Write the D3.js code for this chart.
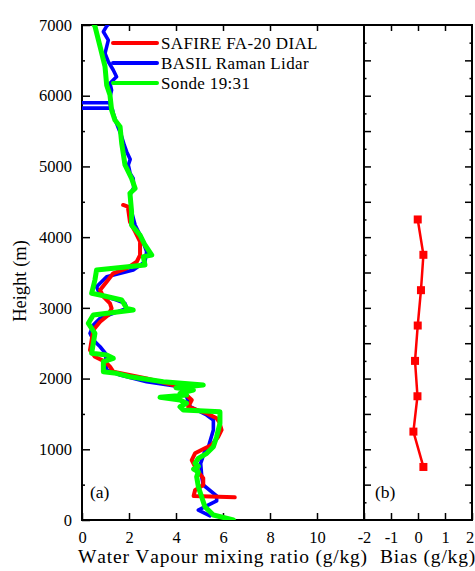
<!DOCTYPE html>
<html><head><meta charset="utf-8">
<script src="https://cdn.jsdelivr.net/npm/d3@7"></script>
<style>html,body{margin:0;padding:0;background:#fff;}svg{display:block;}</style>
</head><body>
<script>
// ---- data: [mixing ratio (g/kg), height (m)] ----
const dialProfile = [[6.5,320],[4.75,340],[4.81,420],[5.16,495],[5.16,590],[4.95,680],[4.81,754],[4.67,848],[4.81,943],[5.23,1014],[5.52,1061],[5.8,1178],[5.94,1273],[5.85,1380],[5.73,1438],[5.31,1508],[4.88,1556],[4.52,1602],[4.67,1697],[4.52,1744],[4.17,1885],[2.75,2003],[1.33,2097],[1.19,2168],[0.98,2239],[0.55,2309],[0.34,2404],[0.41,2545],[0.48,2687],[0.77,2804],[1.12,2899],[1.26,2993],[1.19,3064],[0.91,3158],[0.77,3252],[1.05,3370],[1.33,3488],[1.9,3559],[2.33,3652],[2.47,3747],[2.47,3935],[2.26,4077],[2.04,4218],[1.95,4430],[1.75,4455]];
const lidarProfile = [[5.45,60],[4.95,140],[5.3,200],[5.73,270],[5.73,340],[5.16,495],[5.1,600],[5.05,800],[5.2,950],[5.38,1037],[5.59,1273],[5.59,1414],[5.3,1485],[4.6,1602],[4.45,1744],[4.17,1885],[2.75,1956],[1.62,2050],[1.05,2121],[1.0,2357],[0.77,2450],[0.48,2545],[0.34,2640],[0.48,2757],[0.77,2852],[1.33,2922],[1.9,2993],[1.83,3064],[1.47,3111],[0.77,3182],[0.62,3299],[1.05,3440],[2.18,3535],[2.68,3652],[2.75,3794],[2.54,3983],[2.26,4171],[2.11,4359],[2.04,4595],[2.2,4700],[2.18,4831],[2.05,4900],[1.97,5020],[2.05,5100],[1.9,5208],[1.8,5300],[1.69,5420],[1.6,5500],[1.47,5609],[1.33,5751],[1.3,5800],[1.25,5825],[-2,5825],[1.25,5826],[1.2,5870],[1.2,5900],[-2,5900],[1.2,5901],[1.19,5985],[1.26,6080],[1.19,6175],[1.47,6268],[1.33,6363],[1.12,6480],[0.98,6599],[1.12,6787],[0.91,6905],[1.05,6985],[1.1,7000]];
const sondeProfile = [[6.44,0],[5.59,71],[5.23,188],[5.09,330],[4.95,471],[4.88,612],[4.95,680],[4.75,720],[4.95,760],[4.81,800],[4.95,872],[5.31,943],[5.59,1037],[5.73,1178],[5.87,1367],[5.87,1532],[4.31,1556],[4.17,1602],[4.45,1650],[4.17,1697],[3.32,1735],[4.45,1768],[4.17,1791],[4.74,1838],[4.0,1870],[5.16,1909],[3.46,1956],[2.04,2026],[1.47,2074],[0.91,2097],[0.91,2239],[1.33,2286],[1.05,2333],[0.41,2357],[0.48,2498],[0.55,2640],[0.27,2781],[0.48,2899],[2.18,2970],[1.9,2993],[1.69,3111],[0.77,3182],[0.41,3206],[0.55,3394],[0.62,3535],[2.68,3606],[2.61,3724],[2.97,3747],[2.68,3889],[2.47,4030],[2.11,4171],[2.11,4359],[2.04,4620],[2.26,4690],[2.11,4831],[1.83,5020],[1.69,5326],[1.62,5562],[1.40,5656],[1.26,5797],[1.19,6010],[1.05,6150],[0.98,6410],[0.77,6693],[0.55,6985],[0.52,7000]];
const biasHeights = [750,1250,1750,2250,2750,3250,3750,4250];
const biasValues = [0.2,-0.17,-0.02,-0.11,-0.01,0.11,0.2,-0.01];
const seriesNames = ["SAFIRE FA-20 DIAL","BASIL Raman Lidar","Sonde 19:31"];
const seriesColors = ["#ff0000","#0000ff","#00ff00"];
const mrTicks = [0,2,4,6,8,10];
const biasTicks = [-2,-1,0,1,2];
const heightTicks = [0,1000,2000,3000,4000,5000,6000,7000];

// ---- layout ----
const W = 475, H = 571;
const svg = d3.select("body").append("svg").attr("width", W).attr("height", H);
const x = d3.scaleLinear().domain([0,12]).range([82,364]);
const xb = d3.scaleLinear().domain([-2,2]).range([364,472]);
const y = d3.scaleLinear().domain([0,7000]).range([520,25]);
const font = "'Liberation Serif','Times New Roman',serif";
const fmt = d => String(d);

svg.append("clipPath").attr("id","clipA").append("rect")
  .attr("x",82).attr("y",25).attr("width",282).attr("height",495);

function styleAxis(g){
  g.attr("font-family",font);
  g.select(".domain").remove();
  g.selectAll("line").attr("stroke","#000").attr("stroke-width",1.5);
  g.selectAll("text").attr("font-family",font).attr("font-size",16.5).attr("fill","#000");
}

// left panel: left axis
svg.append("g").attr("transform","translate(82,0)")
  .call(d3.axisLeft(y).tickValues(heightTicks).tickSize(-8).tickPadding(10).tickFormat(fmt))
  .call(styleAxis);
svg.append("g").attr("transform","translate(82,0)")
  .call(d3.axisLeft(y).tickValues(d3.range(500,7000,1000)).tickSize(-3).tickFormat(""))
  .call(styleAxis);
// bottom axis
svg.append("g").attr("transform","translate(0,520)")
  .call(d3.axisBottom(x).tickValues(mrTicks).tickSize(-7).tickPadding(11).tickFormat(fmt))
  .call(styleAxis);
// top axis
svg.append("g").attr("transform","translate(0,25)")
  .call(d3.axisTop(x).tickValues(mrTicks.filter(d=>d>0)).tickSize(-6).tickFormat(""))
  .call(styleAxis);

// right panel axes
svg.append("g").attr("transform","translate(0,520)")
  .call(d3.axisBottom(xb).tickValues(biasTicks).tickSize(-7).tickPadding(11).tickFormat(fmt))
  .call(styleAxis)
  .call(g => g.selectAll(".tick").filter(d => d === 2).select("text").attr("dx", -2.5));
svg.append("g").attr("transform","translate(0,25)")
  .call(d3.axisTop(xb).tickValues([-1,0,1]).tickSize(-6).tickFormat(""))
  .call(styleAxis);
[[364,"L"],[472,"R"]].forEach(([px,side])=>{
  const ax = side==="L" ? d3.axisLeft : d3.axisRight;
  svg.append("g").attr("transform",`translate(${px},0)`)
    .call(ax(y).tickValues(d3.range(500,7000,500)).tickSize(-7).tickFormat(""))
    .call(styleAxis);
  svg.append("g").attr("transform",`translate(${px},0)`)
    .call(ax(y).tickValues(d3.range(250,7000,500)).tickSize(-2.5).tickFormat(""))
    .call(styleAxis);
});

// frames
svg.append("rect").attr("x",x(0)).attr("y",y(7000)).attr("width",x(12)-x(0)).attr("height",y(0)-y(7000))
  .attr("fill","none").attr("stroke","#000").attr("stroke-width",2);
svg.append("rect").attr("x",xb(-2)).attr("y",y(7000)).attr("width",xb(2)-xb(-2)).attr("height",y(0)-y(7000))
  .attr("fill","none").attr("stroke","#000").attr("stroke-width",2);

// profiles
const line = d3.line().x(d=>x(d[0])).y(d=>y(d[1]));
const gA = svg.append("g").attr("clip-path","url(#clipA)");
const profiles = [dialProfile, lidarProfile, sondeProfile];
const widths = [4, 3.6, 5];
[1,0,2].forEach(i=>{
  gA.append("path").datum(profiles[i]).attr("d",line)
    .attr("fill","none").attr("stroke",seriesColors[i]).attr("stroke-width",widths[i])
    .attr("stroke-linejoin","round").attr("stroke-linecap","round");
});

// legend
seriesNames.forEach((name,i)=>{
  const ly = 43 + i*20;
  svg.append("line").attr("x1",113).attr("x2",157).attr("y1",ly).attr("y2",ly)
    .attr("stroke",seriesColors[i]).attr("stroke-width",4).attr("stroke-linecap","round");
  svg.append("text").attr("x",161).attr("y",ly+6).text(name)
    .attr("font-family",font).attr("font-size",17).attr("letter-spacing",0.35).attr("fill","#000");
});

// bias panel
const biasData = biasHeights.map((h,i)=>[biasValues[i],h]);
svg.append("path").datum(biasData)
  .attr("d",d3.line().x(d=>xb(d[0])).y(d=>y(d[1])))
  .attr("fill","none").attr("stroke","#ff0000").attr("stroke-width",2.5);
svg.append("g").selectAll("rect").data(biasData).join("rect")
  .attr("x",d=>xb(d[0])-4).attr("y",d=>y(d[1])-4).attr("width",8).attr("height",8)
  .attr("fill","#ff0000");

// labels
svg.append("text").attr("x",90).attr("y",498).text("(a)")
  .attr("font-family",font).attr("font-size",17.5);
svg.append("text").attr("x",375).attr("y",498).text("(b)")
  .attr("font-family",font).attr("font-size",17.5);
svg.append("text").attr("x",223).attr("y",563).attr("text-anchor","middle")
  .text("Water Vapour mixing ratio (g/kg)").attr("font-family",font).attr("font-size",19.5)
  .attr("letter-spacing",0.8).style("font-kerning","none");
svg.append("text").attr("x",428).attr("y",563).attr("text-anchor","middle")
  .text("Bias (g/kg)").attr("font-family",font).attr("font-size",19.5)
  .attr("letter-spacing",0.8);
svg.append("text").attr("transform","translate(26,281) rotate(-90)").attr("text-anchor","middle")
  .text("Height (m)").attr("font-family",font).attr("font-size",18.5);
</script>
</body></html>
